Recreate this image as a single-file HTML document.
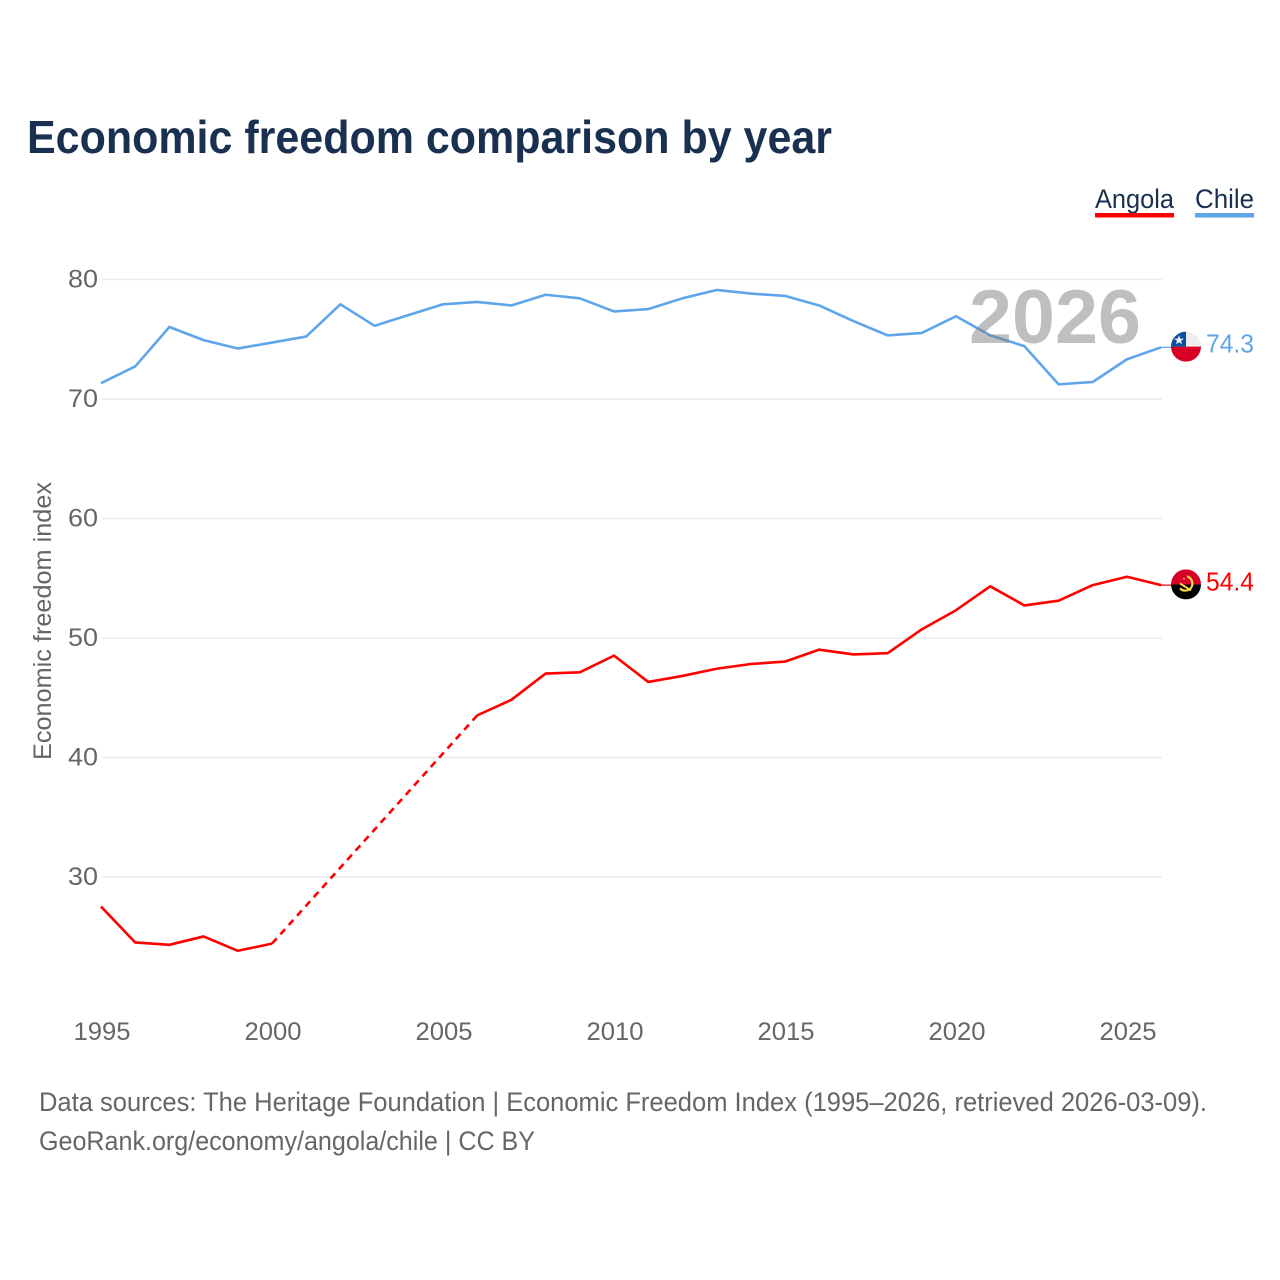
<!DOCTYPE html>
<html lang="en">
<head>
<meta charset="utf-8">
<title>Economic freedom comparison by year</title>
<style>
html,body{margin:0;padding:0;background:#fff;}
svg{display:block;font-family:"Liberation Sans",sans-serif;}
</style>
</head>
<body>
<svg id="chart" xmlns="http://www.w3.org/2000/svg" width="1280" height="1280" viewBox="0 0 1280 1280">
  <rect width="1280" height="1280" fill="#fff"/>
  <text x="27" y="153" font-size="46" font-weight="700" fill="#1a3050" textLength="805" lengthAdjust="spacingAndGlyphs">Economic freedom comparison by year</text>

  <g>
    <text x="1095" y="208" font-size="27" fill="#1a3050" textLength="79" lengthAdjust="spacingAndGlyphs">Angola</text>
    <rect x="1095" y="213" width="79" height="4.5" fill="#ff0000"/>
  </g>
  <g>
    <text x="1195" y="208" font-size="27" fill="#1a3050" textLength="59" lengthAdjust="spacingAndGlyphs">Chile</text>
    <rect x="1195" y="213" width="59" height="4.5" fill="#5fa5ea"/>
  </g>

  <g id="grid"></g>
  <g id="yticks"></g>
  <g id="xticks"></g>

  <text transform="translate(51,760) rotate(-90)" x="0" y="0" font-size="25" fill="#666" textLength="278" lengthAdjust="spacingAndGlyphs">Economic freedom index</text>

  <g id="series"></g>

  <text x="969" y="343" font-size="76" font-weight="700" fill="#808080" fill-opacity="0.5" textLength="172" lengthAdjust="spacingAndGlyphs">2026</text>

  <g id="flag-chile">
    <clipPath id="clip-chile"><circle id="clip-chile-circle" cx="0" cy="0" r="15"/></clipPath>
    <g clip-path="url(#clip-chile)">
      <rect x="-15" y="-15" width="30" height="15" fill="#eeeeee"/>
      <rect x="-15" y="0" width="30" height="15" fill="#d80027"/>
      <rect x="-15" y="-15" width="15" height="15" fill="#0a4ea2"/>
      <polygon points="-7,-11.5 -5.7,-8 -2,-8 -5,-5.8 -3.9,-2.3 -7,-4.4 -10.1,-2.3 -9,-5.8 -12,-8 -8.3,-8" fill="#f2f2f2"/>
    </g>
  </g>
  <g id="flag-angola">
    <clipPath id="clip-angola"><circle cx="0" cy="0" r="15"/></clipPath>
    <g clip-path="url(#clip-angola)">
      <rect x="-15" y="-15" width="30" height="15" fill="#d80027"/>
      <rect x="-15" y="0" width="30" height="15" fill="#000"/>
      <path d="M1,-8 A7.5,7.5 0 0 1 5,3.5 A7.5,7.5 0 0 1 -6,4" fill="none" stroke="#ffda44" stroke-width="2.2"/>
      <path d="M-6,-1 L5,6" stroke="#ffda44" stroke-width="2"/>
      <polygon points="-2,-7 -1,-4.5 -3.4,-6 -0.6,-6 -3,-4.5" fill="#ffda44"/>
    </g>
  </g>

  <text id="label-chile" x="1206" font-size="26" fill="#5fa5ea" textLength="48" lengthAdjust="spacingAndGlyphs"></text>
  <text id="label-angola" x="1206" font-size="26" fill="#ff0000" textLength="48" lengthAdjust="spacingAndGlyphs"></text>

  <text x="39" y="1111" font-size="27" fill="#666" textLength="1168" lengthAdjust="spacingAndGlyphs">Data sources: The Heritage Foundation | Economic Freedom Index (1995–2026, retrieved 2026-03-09).</text>
  <text x="39" y="1150" font-size="27" fill="#666" textLength="496" lengthAdjust="spacingAndGlyphs">GeoRank.org/economy/angola/chile | CC BY</text>
</svg>
<script>
const years = [1995,1996,1997,1998,1999,2000,2001,2002,2003,2004,2005,2006,2007,2008,2009,2010,2011,2012,2013,2014,2015,2016,2017,2018,2019,2020,2021,2022,2023,2024,2025,2026];
const chileValues = [71.3,72.7,76.0,74.9,74.2,74.7,75.2,77.9,76.1,77.0,77.9,78.1,77.8,78.7,78.4,77.3,77.5,78.4,79.1,78.8,78.6,77.8,76.5,75.3,75.5,76.9,75.3,74.4,71.2,71.4,73.3,74.3];
const angolaValues = [27.5,24.5,24.3,25.0,23.8,24.4,null,null,null,null,null,43.5,44.8,47.0,47.1,48.5,46.3,46.8,47.4,47.8,48.0,49.0,48.6,48.7,50.7,52.3,54.3,52.7,53.1,54.4,55.1,54.4];
const yTickValues = [30,40,50,60,70,80];
const xTickValues = [1995,2000,2005,2010,2015,2020,2025];

const NS = 'http://www.w3.org/2000/svg';
function xScale(year){ return 101 + (year - 1995) * 34.2; }
function yScale(v){ return 279.2 + (80 - v) * 11.95; }
function gridY(v){ return 279.5 + (80 - v) * 11.95; }
function make(tag, attrs, parent){
  const el = document.createElementNS(NS, tag);
  for (const k in attrs) el.setAttribute(k, attrs[k]);
  parent.appendChild(el);
  return el;
}

const gridG = document.getElementById('grid');
const yG = document.getElementById('yticks');
const xG = document.getElementById('xticks');
const seriesG = document.getElementById('series');

yTickValues.forEach(function(v){
  const line = make('line', {x1:102, x2:1162, y1:gridY(v), y2:gridY(v), stroke:'#ebebeb', 'stroke-width':1.5}, gridG);
  
  
  const t = make('text', {x:98, y:gridY(v)+8, 'text-anchor':'end', 'font-size':25, fill:'#666', textLength:30, lengthAdjust:'spacingAndGlyphs'}, yG);
  t.textContent = v;
  
  
});

xTickValues.forEach(function(y){
  const t = make('text', {x:xScale(y)+1, y:1040, 'text-anchor':'middle', 'font-size':25, fill:'#666', textLength:57, lengthAdjust:'spacingAndGlyphs'}, xG);
  t.textContent = y;
  
  
});

function drawSeries(name, values, color){
  let run = [];
  let lastPoint = null;
  let gapPending = false;
  function flush(){
    if (run.length > 1) {
      const p = make('polyline', {points:run.join(' '), fill:'none', stroke:color, 'stroke-width':2.6, 'stroke-linejoin':'round'}, seriesG);
      
      
    }
    run = [];
  }
  values.forEach(function(v, i){
    if (v === null) { flush(); gapPending = true; return; }
    const pt = [xScale(years[i]), yScale(v)];
    if (gapPending && lastPoint) {
      const d = make('line', {x1:lastPoint[0], y1:lastPoint[1], x2:pt[0], y2:pt[1], stroke:color, 'stroke-width':2.6, 'stroke-dasharray':'7 5.5'}, seriesG);
      
      
    }
    gapPending = false;
    run.push(pt.join(','));
    lastPoint = pt;
  });
  flush();
  return lastPoint;
}

const chileEnd = drawSeries('chile', chileValues, '#5fa5ea');
const angolaEnd = drawSeries('angola', angolaValues, '#ff0000');

function endMarker(name, end, value, color, flagId, labelId){
  const c = make('line', {x1:end[0], x2:1172, y1:end[1], y2:end[1], stroke:color, 'stroke-width':1.2}, seriesG);
  
  
  document.getElementById(flagId).setAttribute('transform', 'translate(1186,' + (end[1] - 0.7) + ')');
  const label = document.getElementById(labelId);
  label.setAttribute('y', end[1] + 5.2);
  label.textContent = value.toFixed(1);
}
endMarker('chile', chileEnd, chileValues[chileValues.length-1], '#5fa5ea', 'flag-chile', 'label-chile');
endMarker('angola', angolaEnd, angolaValues[angolaValues.length-1], '#ff0000', 'flag-angola', 'label-angola');
</script>
</body>
</html>
